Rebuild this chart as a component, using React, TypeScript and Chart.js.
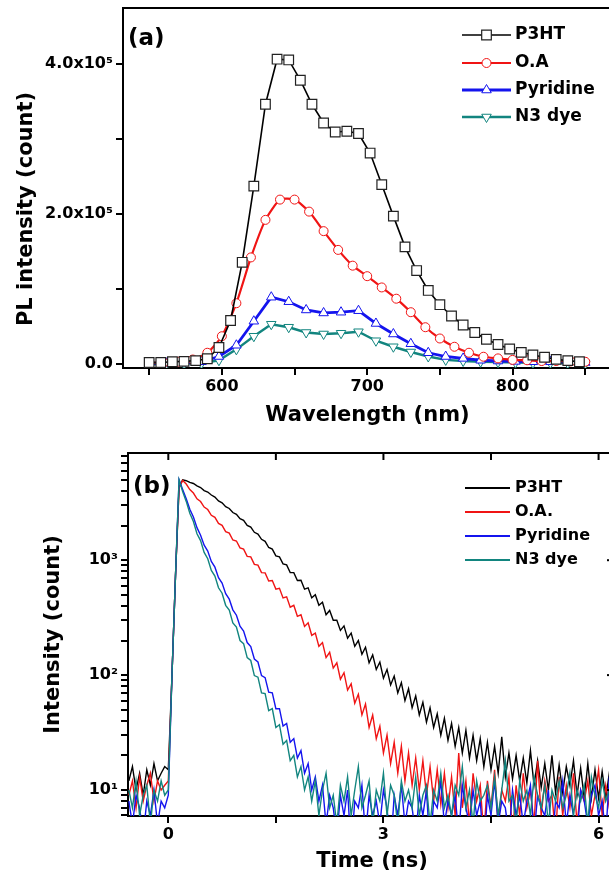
import React, { useEffect, useRef } from 'react';
import { Chart, registerables } from 'chart.js';
import { drawPoint } from 'chart.js/helpers';

Chart.register(...registerables);

const FONT = '"DejaVu Sans", "Liberation Sans", Arial, sans-serif';
const BLACK = '#000000';
const RED = '#f01414';
const BLUE = '#1414ee';
const TEAL = '#12857f';

// ---------- Panel (a): steady-state PL spectra ----------
const WL_P3HT = [550, 558, 566, 574, 582, 590, 598, 606, 614, 622, 630, 638, 646, 654, 662, 670, 678, 686, 694, 702, 710, 718, 726, 734, 742, 750, 758, 766, 774, 782, 790, 798, 806, 814, 822, 830, 838, 846];
const PL_P3HT = [2000, 2000, 3000, 3500, 4500, 7000, 22000, 58000, 135500, 237000, 346000, 406000, 405000, 378000, 346000, 321000, 309000, 310000, 307000, 281000, 239000, 197000, 156000, 124500, 98000, 79000, 64000, 52000, 42000, 33000, 26000, 20000, 15500, 12000, 9000, 6200, 4500, 3000];
const WL_OA = [550, 560, 570, 580, 590, 600, 610, 620, 630, 640, 650, 660, 670, 680, 690, 700, 710, 720, 730, 740, 750, 760, 770, 780, 790, 800, 810, 820, 830, 840, 850];
const PL_OA = [1500, 2000, 3000, 6000, 15000, 37000, 81000, 142000, 192000, 219000, 219000, 203000, 177000, 152000, 131000, 117000, 102000, 87000, 69000, 49000, 34000, 23000, 15000, 9700, 7500, 5500, 5000, 4000, 4000, 3500, 3000];
const WL_DYE = [550, 562, 574, 586, 598, 610, 622, 634, 646, 658, 670, 682, 694, 706, 718, 730, 742, 754, 766, 778, 790, 802, 814, 826, 838, 850];
const PL_PYRIDINE = [1000, 1000, 1500, 3000, 10000, 25000, 57000, 89000, 83000, 72000, 68000, 69000, 71000, 54000, 40000, 27000, 15000, 10000, 7500, 5000, 4000, 3500, 3000, 3000, 2500, 2000];
const PL_N3 = [0, 0, 500, 1000, 5000, 19500, 37000, 53000, 49000, 42000, 40000, 41000, 43000, 31000, 23000, 16000, 10000, 5500, 4000, 3000, 2500, 2000, 1500, 1500, 1000, 500];

const A_X_TICKS = [550, 600, 650, 700, 750, 800, 850];
const A_X_LABELS = ['', '600', '', '700', '', '800', ''];
const A_Y_TICKS = [0, 100000, 200000, 300000, 400000];
const A_Y_LABELS = ['0.0', '', '2.0x10⁵', '', '4.0x10⁵'];

// ---------- Panel (b): time-resolved PL decays ----------
const TIME_NS = [
  -0.55, -0.5, -0.45, -0.4, -0.35, -0.3, -0.25, -0.2, -0.15, -0.1,
  -0.05, 0.0, 0.05, 0.1, 0.15, 0.2, 0.25, 0.3, 0.35, 0.4,
  0.45, 0.5, 0.55, 0.6, 0.65, 0.7, 0.75, 0.8, 0.85, 0.9,
  0.95, 1.0, 1.05, 1.1, 1.15, 1.2, 1.25, 1.3, 1.35, 1.4,
  1.45, 1.5, 1.55, 1.6, 1.65, 1.7, 1.75, 1.8, 1.85, 1.9,
  1.95, 2.0, 2.05, 2.1, 2.15, 2.2, 2.25, 2.3, 2.35, 2.4,
  2.45, 2.5, 2.55, 2.6, 2.65, 2.7, 2.75, 2.8, 2.85, 2.9,
  2.95, 3.0, 3.05, 3.1, 3.15, 3.2, 3.25, 3.3, 3.35, 3.4,
  3.45, 3.5, 3.55, 3.6, 3.65, 3.7, 3.75, 3.8, 3.85, 3.9,
  3.95, 4.0, 4.05, 4.1, 4.15, 4.2, 4.25, 4.3, 4.35, 4.4,
  4.45, 4.5, 4.55, 4.6, 4.65, 4.7, 4.75, 4.8, 4.85, 4.9,
  4.95, 5.0, 5.05, 5.1, 5.15, 5.2, 5.25, 5.3, 5.35, 5.4,
  5.45, 5.5, 5.55, 5.6, 5.65, 5.7, 5.75, 5.8, 5.85, 5.9,
  5.95, 6.0, 6.05, 6.1, 6.15, 6.2,
];
const TR_P3HT = [
  12, 16, 10, 14, 9, 15, 11, 17, 12, 14,
  16, 15, 95, 720, 4300, 5000, 4920, 4760, 4650, 4440,
  4290, 4040, 3920, 3690, 3540, 3280, 3160, 2920, 2820, 2600,
  2510, 2300, 2220, 2010, 1940, 1750, 1690, 1520, 1460, 1290,
  1250, 1090, 1070, 930, 910, 780, 780, 665, 670, 560,
  575, 470, 500, 405, 430, 335, 365, 300, 300, 245,
  268, 210, 232, 178, 200, 152, 175, 128, 150, 112,
  130, 94, 112, 82, 98, 70, 86, 60, 76, 52,
  66, 45, 58, 39, 52, 35, 46, 30, 42, 27,
  38, 24, 35, 21, 33, 19, 30, 18, 28, 16,
  26, 15, 24, 14, 29, 13, 21, 12.5, 20, 12,
  19, 11.5, 22, 11, 18, 10.5, 17, 10, 20, 9.5,
  16.5, 9.5, 16, 11, 18, 9, 15.5, 8.5, 17, 8.5,
  15, 8.5, 14.5, 8.5, 14, 9,
];
const TR_OA = [
  9, 12, 7, 13, 8, 11, 14, 8, 12, 10,
  11, 12, 95, 720, 4300, 4950, 4600, 4120, 3840, 3420,
  3240, 2900, 2760, 2460, 2360, 2090, 2010, 1770, 1720, 1500,
  1470, 1280, 1250, 1080, 1070, 920, 905, 780, 775, 660,
  665, 560, 570, 470, 480, 390, 405, 325, 335, 265,
  285, 222, 232, 178, 192, 142, 158, 115, 128, 92,
  105, 74, 84, 57, 68, 45, 56, 35, 45, 28,
  36, 21, 30, 17, 26, 14, 24, 12, 21, 11,
  19, 10, 18, 9, 16, 8, 15, 7.5, 14, 7,
  13, 6, 21, 7, 12, 5, 14, 8, 11, 4,
  12, 7, 15, 5, 10, 8, 13, 4, 11, 6,
  14, 7, 10, 5, 18, 6, 12, 8, 9, 4,
  13, 6, 11, 7, 14, 5, 10, 8, 12, 6,
  9, 15, 6, 11, 7, 10,
];
const TR_PYRIDINE = [
  8, 5, 9, 7, 4, 8, 6, 10, 5, 8,
  7, 9, 95, 720, 5000, 4120, 3430, 2780, 2380, 1920,
  1650, 1350, 1200, 975, 870, 705, 632, 512, 458, 370,
  332, 266, 242, 192, 177, 138, 130, 99, 95, 71,
  70, 51, 51, 36, 38, 26, 28, 19, 22, 14,
  17, 10, 13, 8, 11, 5, 9, 7, 4, 9,
  6, 10, 3, 8, 7, 11, 4, 9, 6, 8,
  5, 10, 7, 3, 9, 6, 11, 5, 8, 7,
  4, 9, 6, 10, 3, 8, 7, 12, 5, 8,
  6, 9, 4, 11, 7, 5, 10, 6, 8, 3,
  9, 6, 12, 5, 8, 7, 4, 10, 6, 9,
  5, 8, 11, 4, 9, 7, 6, 10, 3, 8,
  7, 12, 5, 9, 6, 4, 10, 8, 5, 9,
  11, 6, 8, 4, 13, 7,
];
const TR_N3 = [
  10, 7, 12, 6, 9, 11, 5, 10, 8, 12,
  9, 10, 95, 720, 5000, 3950, 3250, 2560, 2170, 1700,
  1480, 1170, 1030, 815, 728, 575, 516, 405, 368, 285,
  262, 200, 188, 142, 134, 99, 96, 70, 69, 49,
  51, 35, 37, 25, 27, 18, 20, 13, 16, 10,
  13, 8, 12, 6, 10, 14, 7, 9, 5, 11,
  8, 13, 6, 10, 16, 7, 9, 12, 5, 10,
  8, 14, 6, 11, 9, 5, 12, 8, 10, 7,
  13, 6, 9, 11, 5, 10, 8, 14, 7, 9,
  6, 11, 9, 16, 7, 10, 5, 12, 8, 9,
  11, 7, 13, 6, 10, 18, 8, 9, 5, 12,
  8, 10, 6, 13, 9, 7, 11, 5, 10, 8,
  12, 7, 9, 14, 6, 10, 8, 11, 5, 13,
  9, 7, 12, 8, 10, 6,
];

const B_X_TICKS = [0, 1.5, 3, 4.5, 6];
const B_X_LABELS = ['0', '', '3', '', '6'];
const B_Y_TICKS = [6, 7, 8, 9, 10, 20, 30, 40, 50, 60, 70, 80, 90, 100, 200, 300, 400, 500, 600, 700, 800, 900, 1000, 2000, 3000, 4000, 5000, 6000, 7000, 8000];
const B_Y_MAJOR = [10, 100, 1000];
const B_Y_MAJOR_LABELS = ['10¹', '10²', '10³'];

// ---------- helpers ----------
const toXY = (xs: number[], ys: number[]) => xs.map((x, i) => ({ x, y: ys[i] }));
const zeroPad = (s: any) => {
  s.paddingLeft = 0;
  s.paddingRight = 0;
  s.paddingTop = 0;
  s.paddingBottom = 0;
};
const tickFont = { family: FONT, size: 16, weight: 'bold' as const };
const titleFont = { family: FONT, size: 21, weight: 'bold' as const };
const gridOpts = { drawOnChartArea: false, drawTicks: true, tickLength: 7, color: BLACK, lineWidth: 2 };
const borderOpts = { display: true, color: BLACK, width: 2 };
const CANVAS_W = 620;

function makeOverlay(cfg: any) {
  return {
    id: 'overlay',
    afterDraw(chart: any) {
      const { ctx } = chart;
      const { left, top, right, bottom } = chart.chartArea;
      ctx.save();
      ctx.strokeStyle = BLACK;
      ctx.lineWidth = 2;
      ctx.beginPath();
      ctx.moveTo(left - 1, top);
      ctx.lineTo(right, top);
      ctx.lineTo(right, bottom + 1);
      ctx.stroke();
      if (cfg.innerTicks) {
        const xs = chart.scales.x;
        xs.ticks.forEach((t: any) => {
          const px = xs.getPixelForValue(t.value);
          ctx.beginPath();
          ctx.moveTo(px, top);
          ctx.lineTo(px, top + 7);
          ctx.stroke();
        });
        const ys = chart.scales.y;
        ys.ticks.forEach((t: any) => {
          const py = ys.getPixelForValue(t.value);
          const major = B_Y_MAJOR.includes(t.value);
          ctx.lineWidth = major ? 2 : 1.5;
          ctx.beginPath();
          ctx.moveTo(right, py);
          ctx.lineTo(right - (major ? 9 : 6), py);
          ctx.stroke();
        });
      }
      ctx.fillStyle = BLACK;
      ctx.textAlign = 'left';
      ctx.textBaseline = 'middle';
      ctx.font = `bold ${cfg.labelSize}px ${FONT}`;
      ctx.fillText(cfg.label, cfg.labelX, cfg.labelY);
      if (cfg.yTitle) {
        ctx.save();
        ctx.translate(cfg.yTitleX, cfg.yTitleY);
        ctx.rotate(-Math.PI / 2);
        ctx.textAlign = 'center';
        ctx.font = `bold 21px ${FONT}`;
        ctx.fillText(cfg.yTitle, 0, 0);
        ctx.restore();
      }
      chart.data.datasets.forEach((ds: any, i: number) => {
        const y = cfg.legendY[i];
        ctx.strokeStyle = ds.borderColor;
        ctx.lineWidth = cfg.legendLineWidth || ds.borderWidth;
        ctx.beginPath();
        ctx.moveTo(cfg.legendX1, y);
        ctx.lineTo(cfg.legendX2, y);
        ctx.stroke();
        if (cfg.markers) {
          ctx.fillStyle = '#ffffff';
          ctx.strokeStyle = ds.pointBorderColor;
          ctx.lineWidth = ds.pointBorderWidth;
          drawPoint(
            ctx,
            { pointStyle: ds.pointStyle, radius: ds.pointRadius, rotation: ds.pointRotation || 0, borderWidth: ds.pointBorderWidth } as any,
            (cfg.legendX1 + cfg.legendX2) / 2,
            y
          );
        }
        ctx.fillStyle = BLACK;
        ctx.textAlign = 'left';
        ctx.font = `bold ${cfg.legendSize}px ${FONT}`;
        ctx.fillText(ds.label, cfg.legendTextX, y);
      });
      ctx.restore();
    },
  };
}

function configA(): any {
  return {
    type: 'line',
    data: {
      datasets: [
        {
          label: 'P3HT', data: toXY(WL_P3HT, PL_P3HT), borderColor: BLACK, borderWidth: 1.6,
          pointStyle: 'rect', pointRadius: 6.8, pointBorderWidth: 1.2, pointBorderColor: '#222222', pointBackgroundColor: '#ffffff', tension: 0,
        },
        {
          label: 'O.A', data: toXY(WL_OA, PL_OA), borderColor: RED, borderWidth: 2.2,
          pointStyle: 'circle', pointRadius: 4.5, pointBorderWidth: 1, pointBorderColor: RED, pointBackgroundColor: '#ffffff', tension: 0.2,
        },
        {
          label: 'Pyridine', data: toXY(WL_DYE, PL_PYRIDINE), borderColor: BLUE, borderWidth: 2.8,
          pointStyle: 'triangle', pointRadius: 5.5, pointBorderWidth: 1, pointBorderColor: BLUE, pointBackgroundColor: '#ffffff', tension: 0,
        },
        {
          label: 'N3 dye', data: toXY(WL_DYE, PL_N3), borderColor: TEAL, borderWidth: 2.4,
          pointStyle: 'triangle', pointRotation: 180, pointRadius: 5.5, pointBorderWidth: 1, pointBorderColor: TEAL, pointBackgroundColor: '#ffffff', tension: 0,
        },
      ],
    },
    options: {
      animation: false,
      responsive: false,
      maintainAspectRatio: false,
      layout: { padding: { top: 6, right: 4, left: 0, bottom: 0 } },
      plugins: { legend: { display: false }, tooltip: { enabled: false } },
      scales: {
        x: {
          type: 'linear', min: 532, max: 868.4, bounds: 'data',
          afterBuildTicks: (s: any) => { s.ticks = A_X_TICKS.map((value) => ({ value })); },
          afterFit: (s: any) => { s.height = 64; zeroPad(s); },
          ticks: { callback: (_v: any, i: number) => A_X_LABELS[i] ?? '', font: tickFont, color: BLACK, padding: 2, autoSkip: false, maxRotation: 0 },
          grid: gridOpts, border: borderOpts,
          title: { display: true, text: 'Wavelength (nm)', font: titleFont, color: BLACK, padding: { top: 0, bottom: 3.4 } },
        },
        y: {
          type: 'linear', min: -5300, max: 474200, bounds: 'data',
          afterBuildTicks: (s: any) => { s.ticks = A_Y_TICKS.map((value) => ({ value })); },
          afterFit: (s: any) => { s.width = 123; zeroPad(s); },
          ticks: { callback: (_v: any, i: number) => A_Y_LABELS[i] ?? '', font: tickFont, color: BLACK, padding: 3, autoSkip: false },
          grid: gridOpts, border: borderOpts,
          title: { display: false },
        },
      },
    },
    plugins: [
      makeOverlay({
        innerTicks: false, label: '(a)', labelSize: 23, labelX: 128, labelY: 39,
        yTitle: 'PL intensity (count)', yTitleX: 27, yTitleY: 209,
        legendY: [35, 63, 90, 117], legendX1: 462, legendX2: 511, legendTextX: 515, legendSize: 17, markers: true,
      }),
    ],
  };
}

function configB(): any {
  const line = (label: string, ys: number[], color: string, order: number) => ({
    label, data: toXY(TIME_NS, ys), borderColor: color, borderWidth: 1.4, pointRadius: 0, tension: 0, order,
  });
  return {
    type: 'line',
    data: {
      datasets: [
        line('P3HT', TR_P3HT, BLACK, 4),
        line('O.A.', TR_OA, RED, 3),
        line('Pyridine', TR_PYRIDINE, BLUE, 2),
        line('N3 dye', TR_N3, TEAL, 1),
      ],
    },
    options: {
      animation: false,
      responsive: false,
      maintainAspectRatio: false,
      layout: { padding: { top: 13, right: 4, left: 0, bottom: 0 } },
      plugins: { legend: { display: false }, tooltip: { enabled: false } },
      scales: {
        x: {
          type: 'linear', min: -0.562, max: 6.243, bounds: 'data',
          afterBuildTicks: (s: any) => { s.ticks = B_X_TICKS.map((value) => ({ value })); },
          afterFit: (s: any) => { s.height = 61; zeroPad(s); },
          ticks: { callback: (_v: any, i: number) => B_X_LABELS[i] ?? '', font: tickFont, color: BLACK, padding: 2, autoSkip: false, maxRotation: 0 },
          grid: gridOpts, border: borderOpts,
          title: { display: true, text: 'Time (ns)', font: titleFont, color: BLACK, padding: { top: 0, bottom: 2.4 } },
        },
        y: {
          type: 'logarithmic', min: 5.94, max: 8570, bounds: 'data',
          afterBuildTicks: (s: any) => { s.ticks = B_Y_TICKS.map((value) => ({ value })); },
          afterFit: (s: any) => { s.width = 128; zeroPad(s); },
          ticks: {
            callback: (v: any) => {
              const k = B_Y_MAJOR.indexOf(Number(v));
              return k >= 0 ? B_Y_MAJOR_LABELS[k] : '';
            },
            font: tickFont, color: BLACK, padding: 3, autoSkip: false,
          },
          grid: gridOpts, border: borderOpts,
          title: { display: true, text: 'Intensity (count)', font: titleFont, color: BLACK, padding: { top: 41.4, bottom: 0 } },
        },
      },
    },
    plugins: [
      makeOverlay({
        innerTicks: true, label: '(b)', labelSize: 23, labelX: 133, labelY: 47,
        legendY: [48, 72, 96, 120], legendX1: 465, legendX2: 510, legendTextX: 515, legendSize: 16, markers: false, legendLineWidth: 2,
      }),
    ],
  };
}

function ChartCanvas({ make, top, height }: { make: () => any; top: number; height: number }) {
  const ref = useRef<HTMLCanvasElement>(null);
  useEffect(() => {
    const chart = new Chart(ref.current as HTMLCanvasElement, make());
    return () => chart.destroy();
  }, []);
  return (
    <canvas
      ref={ref}
      width={CANVAS_W}
      height={height}
      style={{ position: 'absolute', left: 0, top, width: CANVAS_W, height }}
    />
  );
}

export default function App() {
  return (
    <div style={{ position: 'fixed', left: 0, top: 0, width: 609, height: 877, overflow: 'hidden', background: '#ffffff' }}>
      <ChartCanvas make={configA} top={0} height={432} />
      <ChartCanvas make={configB} top={440} height={437} />
    </div>
  );
}
